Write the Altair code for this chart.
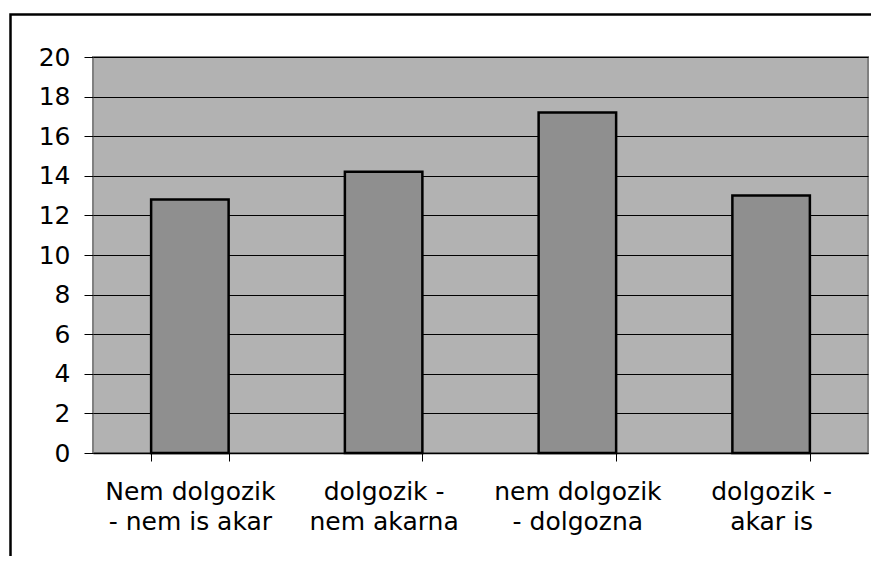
import altair as alt
import pandas as pd

categories = ["Nem dolgozik\n- nem is akar", "dolgozik -\nnem akarna", "nem dolgozik\n- dolgozna", "dolgozik -\nakar is"]
values = [12.8, 14.2, 17.2, 13.0]
y_ticks = [0, 2, 4, 6, 8, 10, 12, 14, 16, 18, 20]

df = pd.DataFrame({"cat": categories, "val": values})

FONT = "DejaVu Sans"

bars = alt.Chart(df).mark_bar(
    fill="#8F8F8F", stroke="#000000", strokeWidth=2.5
).encode(
    x=alt.X("cat:N", sort=categories, title=None,
            scale=alt.Scale(paddingInner=0.6, paddingOuter=0.3),
            axis=alt.Axis(labelAngle=0, labelExpr="split(datum.label, '\\n')",
                          labelFont=FONT, labelFontSize=25, labelColor="#000000",
                          labelLineHeight=30, labelBaseline="top", labelPadding=18,
                          tickBand="extent", tickSize=8, tickColor="#000000", tickWidth=1,
                          domainColor="#000000", domainWidth=1.5, grid=False)),
    y=alt.Y("val:Q", title=None,
            scale=alt.Scale(domain=[0, 20], nice=False),
            axis=alt.Axis(values=y_ticks, labelFont=FONT, labelFontSize=25, labelColor="#000000",
                          labelPadding=14, tickSize=9, tickColor="#000000", tickWidth=1,
                          domain=False, grid=True, gridColor="#000000", gridWidth=1))
)

frame = alt.Chart(alt.Data(values=[{}])).mark_rect(
    filled=False, stroke="#000000", strokeWidth=2.5
).encode(
    x=alt.value(-82.5), x2=alt.value(900), y=alt.value(-42.5), y2=alt.value(700)
)

chart = alt.layer(bars, frame).properties(
    width=775, height=396,
    autosize=alt.AutoSizeParams(type="none"),
    padding={"left": 85, "top": 49, "right": 3, "bottom": 103},
    background="#FFFFFF"
).configure_view(
    fill="#B2B2B2", stroke="#808080", strokeWidth=2
)

chart.save("out.html", embed_options={"renderer": "svg", "actions": False})
